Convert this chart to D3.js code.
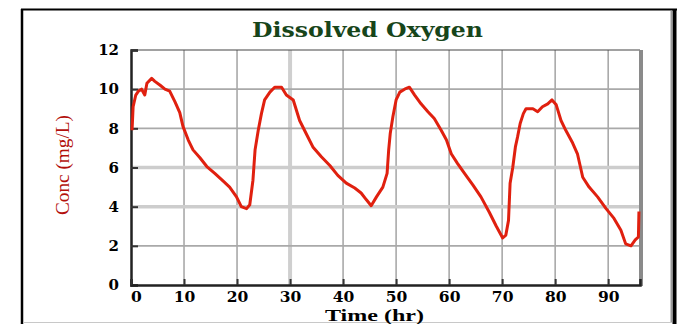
<!DOCTYPE html>
<html>
<head>
<meta charset="utf-8">
<script src="https://cdn.jsdelivr.net/npm/d3@7"></script>
<style>
  body { margin: 0; background: #fff; }
  svg { display: block; }
</style>
</head>
<body>
<svg id="canvas"></svg>
<script>
/***********************************************************************/
// Variables

var chartTitle = 'Dissolved Oxygen';
var xLabel = 'Time (hr)';
var yLabel = 'Conc (mg/L)';

var xTicks = [0, 10, 20, 30, 40, 50, 60, 70, 80, 90];
var yTicks = [0, 2, 4, 6, 8, 10, 12];

// time (hr)
var hours = [
  0.2, 0.4, 0.9, 1.4, 2.0, 2.6, 3.0, 3.9, 4.5, 5.5, 6.4, 7.3, 8.3, 9.2, 9.8,
  10.8, 11.7, 13.0, 14.3, 15.8, 17.4, 18.6, 19.9, 20.8, 21.8, 22.4, 23.0, 23.4,
  24.0, 24.6, 25.2, 26.2, 27.1, 28.4, 29.3, 30.6, 31.8, 33.1, 34.3, 35.9, 37.5,
  39.0, 40.6, 42.2, 43.4, 44.4, 45.3, 46.3, 47.5, 48.3, 48.6, 48.9, 49.4, 50.0,
  50.7, 51.6, 52.5, 53.5, 54.7, 56.0, 57.2, 58.5, 59.5, 60.4, 61.6, 62.9, 64.5,
  66.0, 67.6, 68.9, 70.1, 70.7, 71.2, 71.5, 72.0, 72.5, 72.9, 73.4, 74.0, 74.5,
  75.8, 76.7, 77.6, 78.6, 79.4, 80.2, 81.1, 82.0, 83.3, 84.2, 85.2, 86.4, 88.0,
  89.6, 91.1, 92.4, 93.3, 94.3, 95.1, 95.7, 95.8
];

// dissolved oxygen (mg/L)
var conc = [
  7.9, 9.1, 9.7, 9.9, 10.0, 9.7, 10.3, 10.55, 10.4, 10.2, 10.0, 9.9, 9.35, 8.8, 8.1,
  7.4, 6.9, 6.5, 6.05, 5.7, 5.3, 5.0, 4.5, 4.0, 3.9, 4.1, 5.35, 6.9,
  7.9, 8.75, 9.45, 9.85, 10.1, 10.1, 9.7, 9.45, 8.4, 7.7, 7.05, 6.55, 6.1,
  5.6, 5.2, 4.95, 4.7, 4.35, 4.05, 4.5, 5.0, 5.7, 6.9, 7.75, 8.6, 9.45,
  9.85, 10.0, 10.1, 9.7, 9.25, 8.85, 8.5, 7.9, 7.4, 6.7, 6.2, 5.7, 5.1,
  4.5, 3.7, 3.0, 2.4, 2.55, 3.3, 5.2, 6.0, 7.05, 7.55, 8.25, 8.75, 9.0,
  9.0, 8.85, 9.1, 9.25, 9.45, 9.2, 8.4, 7.9, 7.25, 6.7, 5.5, 5.0, 4.5,
  3.9, 3.4, 2.8, 2.1, 2.0, 2.3, 2.45, 3.75
];

var width = 679, height = 324;
var plot = { left: 131, right: 640, top: 50, bottom: 285 };

/***********************************************************************/
// Setup

var svg = d3.select('#canvas').attr('width', width).attr('height', height);

var xScale = d3.scaleLinear().domain([0, 96]).range([plot.left, plot.right]);
var yScale = d3.scaleLinear().domain([0, 12]).range([plot.bottom, plot.top]);

// outer frame
svg.append('line').attr('x1', 21).attr('x2', 677).attr('y1', 9.5).attr('y2', 9.5)
  .attr('stroke', '#000').attr('stroke-width', 2);
svg.append('line').attr('x1', 22).attr('x2', 22).attr('y1', 9).attr('y2', 324)
  .attr('stroke', '#000').attr('stroke-width', 2.5);
svg.append('line').attr('x1', 674.5).attr('x2', 674.5).attr('y1', 9).attr('y2', 324)
  .attr('stroke', '#000').attr('stroke-width', 4);
svg.append('line').attr('x1', 671.5).attr('x2', 671.5).attr('y1', 11).attr('y2', 322)
  .attr('stroke', '#999').attr('stroke-width', 2);
svg.append('line').attr('x1', 23).attr('x2', 672).attr('y1', 322.5).attr('y2', 322.5)
  .attr('stroke', '#c8c8c8').attr('stroke-width', 1);

/***********************************************************************/
// Grid

var grid = svg.append('g');
grid.selectAll('.vgrid').data(xTicks.filter(d => d > 0)).enter().append('line')
  .attr('x1', d => xScale(d)).attr('x2', d => xScale(d))
  .attr('y1', plot.top).attr('y2', plot.bottom)
  .attr('stroke', d => d == 30 ? '#cfcfcf' : '#a9a9a9')
  .attr('stroke-width', d => d == 30 ? 4 : 1.6);

grid.selectAll('.hgrid').data(yTicks.filter(d => d > 0 && d < 12)).enter().append('line')
  .attr('x1', plot.left).attr('x2', plot.right)
  .attr('y1', d => yScale(d)).attr('y2', d => yScale(d))
  .attr('stroke', d => (d == 6 || d == 4) ? '#cdcdcd' : '#a9a9a9')
  .attr('stroke-width', d => (d == 6 || d == 4) ? 3.5 : 1.6);

// plot border
svg.append('line').attr('x1', plot.left).attr('x2', plot.right).attr('y1', plot.top).attr('y2', plot.top)
  .attr('stroke', '#444').attr('stroke-width', 1.2);
svg.append('line').attr('x1', plot.right + 1).attr('x2', plot.right + 1).attr('y1', plot.top).attr('y2', plot.bottom + 1)
  .attr('stroke', '#8a8a8a').attr('stroke-width', 4);

/***********************************************************************/
// Axes

var yAxis = svg.append('g').attr('transform', 'translate(' + plot.left + ',0)')
  .call(d3.axisLeft(yScale).tickValues(yTicks).tickSize(-7).tickPadding(12).tickFormat(d3.format('d')));
var xAxis = svg.append('g').attr('transform', 'translate(0,' + plot.bottom + ')')
  .call(d3.axisBottom(xScale).tickValues(xTicks).tickSize(-6).tickPadding(6).tickFormat(d3.format('d')));

[yAxis, xAxis].forEach(ax => {
  ax.select('.domain').attr('stroke', '#222').attr('stroke-width', 2.5);
  ax.selectAll('.tick line').attr('stroke', '#333').attr('stroke-width', 2);
  ax.selectAll('.tick text')
    .attr('fill', '#000')
    .style('font-family', '"DejaVu Serif", serif')
    .style('font-weight', 'bold');
});
yAxis.selectAll('.tick text').style('font-size', '15px');
xAxis.selectAll('.tick text').style('font-size', '15.5px').attr('dy', '0.68em');
xAxis.selectAll('.tick').filter(d => d == 0).select('text').attr('x', 5);

/***********************************************************************/
// Line

var line = d3.line().x(d => xScale(d[0])).y(d => yScale(d[1]));
svg.append('path')
  .datum(hours.map((h, i) => [h, conc[i]]))
  .attr('d', line)
  .attr('fill', 'none')
  .attr('stroke', '#e0200f')
  .attr('stroke-width', 3)
  .attr('stroke-linejoin', 'round');

/***********************************************************************/
// Labels

svg.append('text').text(chartTitle)
  .attr('x', 367.5).attr('y', 37).attr('text-anchor', 'middle')
  .attr('textLength', 231).attr('lengthAdjust', 'spacingAndGlyphs')
  .style('font-family', '"DejaVu Serif", serif').style('font-weight', 'bold').style('font-size', '20px')
  .attr('fill', '#17451a');

svg.append('text').text(xLabel)
  .attr('x', 374.5).attr('y', 320.5).attr('text-anchor', 'middle')
  .attr('textLength', 99).attr('lengthAdjust', 'spacingAndGlyphs')
  .style('font-family', '"Liberation Serif", serif').style('font-weight', 'bold').style('font-size', '16px')
  .attr('fill', '#000');

svg.append('text').text(yLabel)
  .attr('transform', 'translate(69,165) rotate(-90)').attr('text-anchor', 'middle')
  .attr('textLength', 100).attr('lengthAdjust', 'spacingAndGlyphs')
  .style('font-family', '"Liberation Serif", serif').style('font-size', '18px')
  .attr('fill', '#b3100c');
</script>
</body>
</html>
